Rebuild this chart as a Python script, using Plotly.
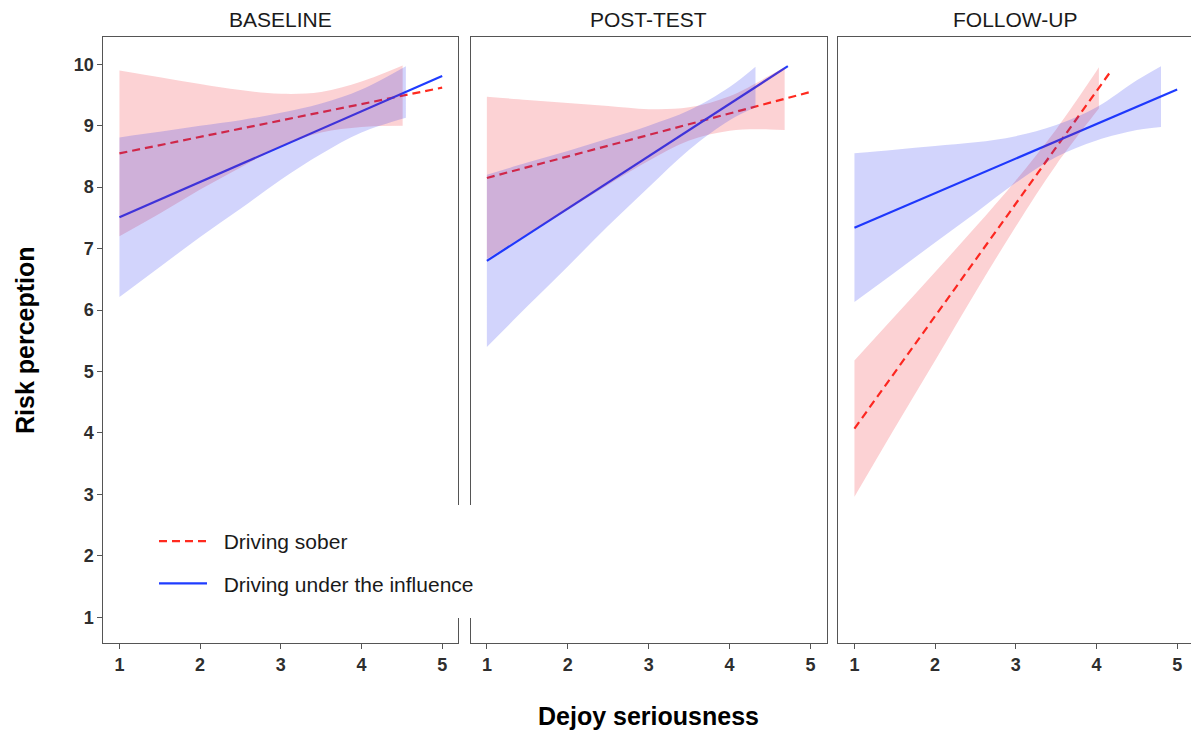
import plotly.graph_objects as go

# ---------------- data ----------------
panels = ["BASELINE", "POST-TEST", "FOLLOW-UP"]
series_names = ["Driving sober", "Driving under the influence"]

# Driving sober: fitted line end points per panel
sober_line_x = [[1, 5], [1, 5], [1, 4.19]]
sober_line_y = [[8.55, 9.62], [8.15, 9.55], [4.07, 9.91]]
# Driving sober: confidence band
sober_band_x = [
    [1, 1.5, 2, 2.5, 3, 3.5, 4, 4.51],
    [1, 1.5, 2, 2.5, 3, 3.5, 4, 4.5, 4.68],
    [1, 1.5, 2, 2.5, 3, 3.5, 4, 4.03],
]
sober_upper = [
    [9.90, 9.79, 9.68, 9.58, 9.52, 9.55, 9.72, 9.98],
    [9.47, 9.42, 9.37, 9.32, 9.27, 9.30, 9.48, 9.82, 9.95],
    [5.18, 5.90, 6.62, 7.35, 8.11, 8.94, 9.89, 9.95],
]
sober_lower = [
    [7.20, 7.57, 7.96, 8.32, 8.66, 8.89, 8.98, 9.00],
    [6.83, 7.24, 7.63, 8.04, 8.43, 8.76, 8.92, 8.94, 8.93],
    [2.96, 4.08, 5.18, 6.29, 7.36, 8.36, 9.23, 9.28],
]

# Driving under the influence: fitted line end points per panel
dui_line_x = [[1, 5], [1, 4.72], [1, 5]]
dui_line_y = [[7.51, 9.81], [6.80, 9.97], [7.34, 9.59]]
# Driving under the influence: confidence band
dui_band_x = [
    [1, 1.5, 2, 2.5, 3, 3.5, 4, 4.55],
    [1, 1.5, 2, 2.5, 3, 3.5, 4, 4.32],
    [1, 1.5, 2, 2.5, 3, 3.5, 4, 4.5, 4.8],
]
dui_upper = [
    [8.81, 8.90, 9.00, 9.09, 9.21, 9.36, 9.59, 9.97],
    [8.20, 8.40, 8.59, 8.79, 9.00, 9.25, 9.63, 9.96],
    [8.55, 8.61, 8.67, 8.73, 8.83, 9.01, 9.30, 9.74, 9.97],
]
dui_lower = [
    [6.21, 6.70, 7.19, 7.65, 8.12, 8.54, 8.89, 9.13],
    [5.40, 6.06, 6.71, 7.37, 8.00, 8.61, 9.09, 9.30],
    [6.13, 6.61, 7.10, 7.58, 8.07, 8.49, 8.76, 8.93, 8.98],
]

x_ticks = [1, 2, 3, 4, 5]
y_ticks = [1, 2, 3, 4, 5, 6, 7, 8, 9, 10]

# ---------------- styling ----------------
W, H = 1191, 731
RED = "#ff2a1f"
BLUE = "#1f3cff"
RED_FILL = "rgba(240,30,40,0.2)"
BLUE_FILL = "rgba(30,40,240,0.2)"
AXIS_COL = "#555555"
TEXT_COL = "#1a1a1a"
FONT = "Liberation Sans, Arial, sans-serif"
NB = "\u00a0\u00a0"  # spacing between legend key and label

x_domains = [[103.3 / W, 458.3 / W], [470.7 / W, 826.7 / W], [838.3 / W, 1.0]]
x_ranges = [[0.8, 5.2], [0.8, 5.2], [0.8, 0.8 + 352.7 / 80.68]]
y_domain = [1 - 643.3 / H, 1 - 36.7 / H]
y_range = [0.575, 10.449]

fig = go.Figure()

for i in range(3):
    xa = "x" if i == 0 else f"x{i+1}"
    ya = "y" if i == 0 else f"y{i+1}"
    # lines
    fig.add_trace(go.Scatter(
        x=sober_line_x[i], y=sober_line_y[i], mode="lines",
        line=dict(color=RED, width=2.2, dash="8px,5px"),
        name=NB + series_names[0], legendgroup="sober", showlegend=(i == 0),
        xaxis=xa, yaxis=ya, hoverinfo="skip"))
    fig.add_trace(go.Scatter(
        x=dui_line_x[i], y=dui_line_y[i], mode="lines",
        line=dict(color=BLUE, width=2.2),
        name=NB + series_names[1], legendgroup="dui", showlegend=(i == 0),
        xaxis=xa, yaxis=ya, hoverinfo="skip"))
    # bands
    fig.add_trace(go.Scatter(
        x=sober_band_x[i], y=sober_lower[i], mode="lines",
        line=dict(width=0, shape="spline", color=RED_FILL),
        showlegend=False, xaxis=xa, yaxis=ya, hoverinfo="skip"))
    fig.add_trace(go.Scatter(
        x=sober_band_x[i], y=sober_upper[i], mode="lines",
        line=dict(width=0, shape="spline", color=RED_FILL),
        fill="tonexty", fillcolor=RED_FILL,
        showlegend=False, xaxis=xa, yaxis=ya, hoverinfo="skip"))
    fig.add_trace(go.Scatter(
        x=dui_band_x[i], y=dui_lower[i], mode="lines",
        line=dict(width=0, shape="spline", color=BLUE_FILL),
        showlegend=False, xaxis=xa, yaxis=ya, hoverinfo="skip"))
    fig.add_trace(go.Scatter(
        x=dui_band_x[i], y=dui_upper[i], mode="lines",
        line=dict(width=0, shape="spline", color=BLUE_FILL),
        fill="tonexty", fillcolor=BLUE_FILL,
        showlegend=False, xaxis=xa, yaxis=ya, hoverinfo="skip"))

layout = dict(
    width=W, height=H,
    margin=dict(l=0, r=0, t=0, b=0),
    paper_bgcolor="white", plot_bgcolor="white",
    font=dict(family=FONT, color=TEXT_COL),
    showlegend=True,
    legend=dict(
        x=154 / W, y=1 - 521 / H, xanchor="left", yanchor="top",
        bgcolor="rgba(255,255,255,0)", borderwidth=0,
        font=dict(family=FONT, size=21, color=TEXT_COL),
        traceorder="grouped", tracegroupgap=12, itemwidth=48,
    ),
    # white legend background that interrupts the panel borders
    shapes=[dict(type="rect", xref="paper", yref="paper", layer="above",
                 x0=140 / W, x1=478 / W, y0=1 - 618 / H, y1=1 - 505 / H,
                 fillcolor="white", line=dict(width=0))],
)

tickfont = dict(family=FONT, size=18, color="#2e2e2e", weight="bold")
for i in range(3):
    sx = "" if i == 0 else str(i + 1)
    layout["xaxis" + sx] = dict(
        domain=x_domains[i], range=x_ranges[i], anchor="y" + sx,
        tickmode="array", tickvals=x_ticks, ticks="outside", ticklen=5,
        tickcolor=AXIS_COL, tickwidth=1, tickfont=tickfont,
        showline=True, linecolor=AXIS_COL, linewidth=1, mirror=True,
        showgrid=False, zeroline=False, automargin=False, fixedrange=True,
    )
    layout["yaxis" + sx] = dict(
        domain=y_domain, range=y_range, anchor="x" + sx,
        tickmode="array", tickvals=y_ticks,
        ticks="outside" if i == 0 else "", ticklen=5,
        tickcolor=AXIS_COL, tickwidth=1, tickfont=tickfont,
        showticklabels=(i == 0),
        showline=True, linecolor=AXIS_COL, linewidth=1, mirror=(i < 2),
        showgrid=False, zeroline=False, automargin=False, fixedrange=True,
    )

annotations = []
for i, name in enumerate(panels):
    annotations.append(dict(
        text=name, xref="paper", yref="paper",
        x=(x_domains[i][0] + min(x_domains[i][1], (838.3 + 355.5) / W)) / 2,
        y=1 - 19 / H, xanchor="center", yanchor="middle", showarrow=False,
        font=dict(family=FONT, size=21, color=TEXT_COL)))
annotations.append(dict(
    text="Dejoy seriousness", xref="paper", yref="paper",
    x=648 / W, y=1 - 716 / H, xanchor="center", yanchor="middle",
    showarrow=False,
    font=dict(family=FONT, size=25, color="#000000", weight="bold")))
annotations.append(dict(
    text="Risk perception", xref="paper", yref="paper",
    x=25 / W, y=1 - 340 / H, xanchor="center", yanchor="middle",
    textangle=-90, showarrow=False,
    font=dict(family=FONT, size=25, color="#000000", weight="bold")))
layout["annotations"] = annotations

fig.update_layout(**layout)
fig.write_html("out.html", config={"displayModeBar": False},
               post_script="document.body.style.margin='0';")
